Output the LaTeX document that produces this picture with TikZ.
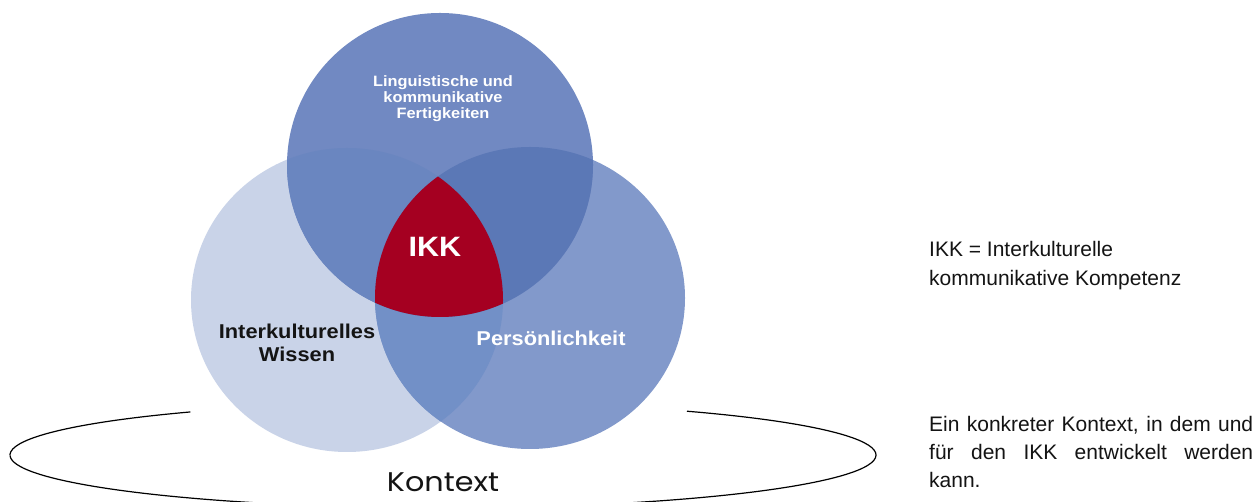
\documentclass[tikz,border=0pt]{standalone}
\usepackage{fontspec}
\setmainfont{Liberation Sans}
\newfontfamily\kontextfont[FakeStretch=1.12]{Poppins}
\newfontfamily\lblfont[FakeStretch=1.09]{Liberation Sans}
\definecolor{leftc}{HTML}{C9D3E8}
\definecolor{rightc}{HTML}{8299CB}
\definecolor{topc}{HTML}{7189C2}
\definecolor{tlc}{HTML}{6A86C0}
\definecolor{trc}{HTML}{5B78B6}
\definecolor{lrc}{HTML}{7290C7}
\definecolor{ikkred}{HTML}{A50021}
\definecolor{txt}{HTML}{141414}
\tikzset{
  lbl/.style={inner sep=0pt, anchor=base},
  sidetext/.style={inner sep=0pt, anchor=base west, text=txt},
  kontextline/.style={line width=1.2pt, black},
}
\newcommand{\leftshape}{(cl) ellipse [x radius=156pt, y radius=152pt]}
\newcommand{\rightshape}{(cr) ellipse [x radius=155pt, y radius=151pt]}
\newcommand{\topshape}{(ct) ellipse [x radius=153pt, y radius=152pt]}
\begin{document}
\begin{tikzpicture}[x=1pt,y=1pt]
\useasboundingbox (0,0) rectangle (1255,502);
\fill[white] (0,0) rectangle (1255,502);
% circle centres
\coordinate (ct) at (440,337);
\coordinate (cl) at (347,202);
\coordinate (cr) at (530,204);
% base fills
\fill[leftc] \leftshape;
\fill[rightc] \rightshape;
\fill[topc] \topshape;
\begin{scope}
  \clip \leftshape;
  \fill[lrc] \rightshape;
  \fill[tlc] \topshape;
\end{scope}
\begin{scope}
  \clip \rightshape;
  \fill[trc] \topshape;
\end{scope}
\begin{scope}
  \clip \leftshape;
  \clip \rightshape;
  \fill[ikkred] \topshape;
\end{scope}
% context ellipse (open)
\coordinate (ec) at (443,47);
\begin{scope}
  \clip (0,0) rectangle (1255,502);
  \draw[kontextline] (ec) ++(125.7:433pt and 53pt)
     arc[start angle=125.7, end angle=270, x radius=433pt, y radius=53pt];
  \draw[kontextline] (ec) ++(55.7:433pt and 53pt)
     arc[start angle=55.7, end angle=-90, x radius=433pt, y radius=53pt];
\end{scope}
% labels
\node[lbl, text=white] (ling) at (443,415)
  {\parbox[t]{200pt}{\centering\lblfont\bfseries\fontsize{15}{16}\selectfont
   Linguistische und\\kommunikative\\Fertigkeiten}};
\node[lbl, text=white] (ikk) at (435,245)
  {\lblfont\bfseries\fontsize{28}{30}\selectfont IKK};
\node[lbl, text=txt] (wissen) at (297,163)
  {\parbox[t]{200pt}{\centering\lblfont\bfseries\fontsize{20}{23}\selectfont
   Interkulturelles\\Wissen}};
\node[lbl, text=white] (pers) at (551,156)
  {\lblfont\bfseries\fontsize{20}{23}\selectfont Persönlichkeit};
\node[lbl, text=txt] (kontext) at (443,10)
  {\kontextfont\fontsize{27}{30}\selectfont Kontext};
% side texts
\node[sidetext] (def) at (929,245)
  {\parbox[t]{330pt}{\raggedright\fontsize{21}{28.5}\selectfont
   IKK = Interkulturelle\\kommunikative Kompetenz}};
\node[sidetext] (ctx) at (929,70)
  {\parbox[t]{324pt}{\fontsize{21}{28}\selectfont\tolerance=10000\hyphenpenalty=10000
   \parindent=0pt\emergencystretch=20pt
   Ein konkreter Kontext, in dem und\linebreak für den IKK entwickelt werden\linebreak kann.}};
\end{tikzpicture}
\end{document}
